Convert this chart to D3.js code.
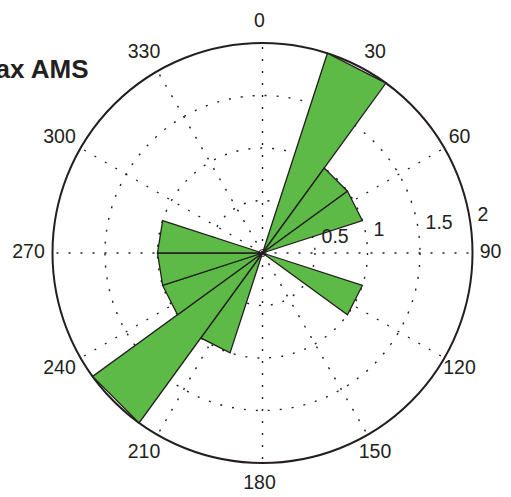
<!DOCTYPE html>
<html>
<head>
<meta charset="utf-8">
<script src="https://cdn.jsdelivr.net/npm/d3@7"></script>
<style>
  html, body { margin: 0; padding: 0; background: #fff; }
  svg { display: block; }
  text { font-family: "Liberation Sans", Arial, Helvetica, sans-serif; fill: #231f20; }
</style>
</head>
<body>
<svg id="chart" width="511" height="497"></svg>
<script>
// ---- data ----
const title = "Kmax AMS";
const binStarts = [0, 18, 36, 54, 72, 90, 108, 126, 144, 162, 180, 198, 216, 234, 252, 270, 288, 306, 324, 342];
const binWidth = 18;
const counts = [0, 2, 1, 1, 0, 0, 1, 0, 0, 0, 0, 1, 2, 1, 1, 1, 0, 0, 0, 0];
const angleTicks = [0, 30, 60, 90, 120, 150, 180, 210, 240, 270, 300, 330];
const ringTicks = [0.5, 1, 1.5, 2];
const rMax = 2;

// ---- layout ----
const cx = 262.5, cy = 253, R = 210;
const svg = d3.select("#chart");
const g = svg.append("g").attr("transform", `translate(${cx},${cy})`);

const r = d3.scaleLinear().domain([0, rMax]).range([0, R]);
const a = d3.scaleLinear().domain([0, 360]).range([0, 2 * Math.PI]);
const px = (v, deg) => r(v) * Math.sin(a(deg));
const py = (v, deg) => -r(v) * Math.cos(a(deg));

const dotStyle = sel => sel.attr("fill", "none").attr("stroke", "#231f20")
  .attr("stroke-width", 1.4).attr("stroke-dasharray", "2,10");

// dotted rings
g.selectAll("circle.ring").data(ringTicks.filter(d => d < rMax)).join("circle")
  .attr("class", "ring").attr("r", d => r(d)).call(dotStyle);

// dotted spokes
g.selectAll("line.spoke").data(angleTicks).join("line")
  .attr("class", "spoke")
  .attr("x1", 0).attr("y1", 0)
  .attr("x2", d => px(rMax, d)).attr("y2", d => py(rMax, d))
  .call(dotStyle);

// outer circle
g.append("circle").attr("r", r(rMax)).attr("fill", "none")
  .attr("stroke", "#231f20").attr("stroke-width", 2);

// wedges (MATLAB rose style: straight outer edge)
const bins = binStarts.map((s, i) => ({ s, e: s + binWidth, v: counts[i] })).filter(d => d.v > 0);
const line = d3.line();
g.selectAll("path.wedge").data(bins).join("path")
  .attr("class", "wedge")
  .attr("d", d => line([[0, 0], [px(d.v, d.s), py(d.v, d.s)], [px(d.v, d.e), py(d.v, d.e)]]) + "Z")
  .attr("fill", "#5dba47").attr("stroke", "#231f20").attr("stroke-width", 1.3)
  .attr("stroke-linejoin", "miter");

// small centre mark
g.append("circle").attr("r", 3.5).attr("fill", "none")
  .attr("stroke", "#231f20").attr("stroke-width", 1);

// angle labels
const labR = R * 1.1;
g.selectAll("text.ang").data(angleTicks).join("text")
  .attr("class", "ang")
  .attr("x", d => labR * Math.sin(a(d)) - 3)
  .attr("y", d => -labR * Math.cos(a(d)) - 2)
  .attr("text-anchor", "middle").attr("dominant-baseline", "central")
  .attr("font-size", 19.5)
  .text(d => d);

// ring labels (placed at 82 degrees)
g.selectAll("text.rl").data(ringTicks).join("text")
  .attr("class", "rl")
  .attr("x", d => px(d + 0.025, 82) + 4.5)
  .attr("y", d => py(d + 0.025, 82) - 2)
  .attr("font-size", 19.5)
  .text(d => d);

// title (runs off the left edge, as in the reference)
svg.append("text").attr("x", 88.5).attr("y", 78)
  .attr("text-anchor", "end").attr("font-size", 26).attr("font-weight", "bold")
  .text(title);
</script>
</body>
</html>
